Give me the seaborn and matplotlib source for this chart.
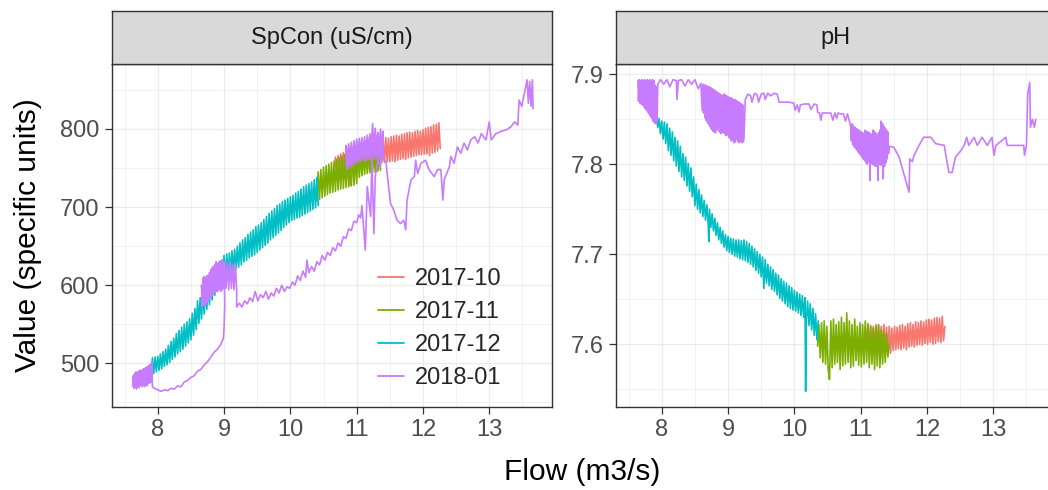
import numpy as np
import pandas as pd
import seaborn as sns
import matplotlib.pyplot as plt
from matplotlib.lines import Line2D

months = ['2017-10', '2017-11', '2017-12', '2018-01']
colors = ['#F8766D', '#7CAE00', '#00BFC4', '#C77CFF']
params = ['SpCon (uS/cm)', 'pH']

# SpCon (flow m3/s, value)
spcon_oct_flow = [10.66, 10.68, 10.70, 10.72, 10.74, 10.76, 10.78, 10.80, 10.82, 10.84, 10.86, 10.88, 10.90,
                  10.92, 10.94, 10.96, 10.98, 11.00, 11.02, 11.04, 11.06, 11.08, 11.10, 11.12, 11.14, 11.16,
                  11.18, 11.20, 11.22, 11.24, 11.26, 11.28, 11.30, 11.32, 11.34, 11.36, 11.38, 11.40, 11.42,
                  11.44, 11.46, 11.48, 11.50, 11.52, 11.54, 11.56, 11.58, 11.60, 11.62, 11.64, 11.66, 11.68,
                  11.70, 11.72, 11.74, 11.76, 11.78, 11.80, 11.82, 11.84, 11.86, 11.88, 11.90, 11.92, 11.94,
                  11.96, 11.98, 12.00, 12.02, 12.04, 12.06, 12.08, 12.10, 12.12, 12.14, 12.16, 12.18, 12.20,
                  12.22, 12.24, 12.26]
spcon_oct_val = [745, 764, 746, 766, 748, 768, 749, 770, 736, 771, 740, 772, 728, 774, 748, 775, 750, 777, 751,
                 778, 752, 779, 753, 780, 754, 781, 754, 782, 755, 783, 755, 784, 756, 785, 756, 786, 757, 788,
                 757, 789, 758, 788, 758, 790, 759, 791, 758, 792, 760, 791, 761, 793, 762, 794, 761, 795, 763,
                 796, 764, 795, 765, 797, 766, 798, 767, 797, 767, 799, 768, 801, 768, 802, 766, 803, 769, 805,
                 770, 806, 772, 808, 775]

spcon_nov_flow = [10.40, 10.42, 10.44, 10.46, 10.48, 10.50, 10.52, 10.54, 10.56, 10.58, 10.60, 10.62, 10.64,
                  10.66, 10.68, 10.70, 10.72, 10.74, 10.76, 10.78, 10.80, 10.82, 10.84, 10.86, 10.88, 10.90,
                  10.92, 10.94, 10.96, 10.98, 11.00, 11.02, 11.04, 11.06, 11.08, 11.10, 11.12, 11.14, 11.16,
                  11.18, 11.20, 11.22, 11.24, 11.26, 11.28, 11.30, 11.32, 11.34, 11.36]
spcon_nov_val = [708, 745, 710, 748, 712, 751, 714, 753, 716, 755, 718, 757, 719, 759, 720, 761, 722, 763, 723,
                 765, 724, 767, 725, 768, 726, 769, 727, 770, 728, 769, 730, 768, 738, 767, 740, 768, 742, 767,
                 743, 769, 744, 768, 745, 770, 744, 768, 746, 767, 747]

spcon_dec_flow = [7.90, 7.92, 7.94, 7.96, 7.98, 8.00, 8.02, 8.04, 8.06, 8.08, 8.10, 8.12, 8.14, 8.16, 8.18,
                  8.20, 8.22, 8.24, 8.26, 8.28, 8.30, 8.32, 8.34, 8.36, 8.38, 8.40, 8.42, 8.44, 8.46, 8.48,
                  8.50, 8.52, 8.54, 8.56, 8.58, 8.60, 8.62, 8.64, 8.66, 8.68, 8.70, 8.72, 8.74, 8.76, 8.78,
                  8.80, 8.82, 8.84, 8.86, 8.88, 8.90, 8.92, 8.94, 8.96, 8.98, 9.00, 9.02, 9.04, 9.06, 9.08,
                  9.10, 9.12, 9.14, 9.16, 9.18, 9.20, 9.22, 9.24, 9.26, 9.28, 9.30, 9.32, 9.34, 9.36, 9.38,
                  9.40, 9.42, 9.44, 9.46, 9.48, 9.50, 9.52, 9.54, 9.56, 9.58, 9.60, 9.62, 9.64, 9.66, 9.68,
                  9.70, 9.72, 9.74, 9.76, 9.78, 9.80, 9.82, 9.84, 9.86, 9.88, 9.90, 9.92, 9.94, 9.96, 9.98,
                  10.00, 10.02, 10.04, 10.06, 10.08, 10.10, 10.12, 10.14, 10.16, 10.18, 10.20, 10.22, 10.24,
                  10.26, 10.28, 10.30, 10.32, 10.34, 10.36, 10.38, 10.40, 10.42]
spcon_dec_val = [486, 507, 487, 508, 489, 509, 491, 512, 493, 515, 496, 518, 498, 523, 501, 528, 505, 532, 508,
                 538, 512, 542, 515, 546, 518, 550, 522, 553, 526, 557, 530, 564, 536, 570, 543, 580, 551, 584,
                 557, 591, 563, 597, 569, 602, 575, 608, 581, 613, 587, 619, 592, 625, 597, 632, 603, 638, 607,
                 640, 610, 641, 614, 644, 617, 646, 620, 650, 623, 654, 626, 658, 630, 661, 632, 665, 635, 668,
                 637, 671, 639, 675, 642, 677, 645, 680, 648, 684, 651, 688, 654, 692, 658, 695, 661, 698, 664,
                 702, 667, 704, 670, 707, 674, 709, 677, 711, 680, 713, 683, 715, 684, 718, 686, 720, 687, 723,
                 689, 726, 691, 728, 693, 730, 695, 732, 697, 735, 699, 738, 702]

spcon_jan_flow = [7.62, 7.63, 7.64, 7.65, 7.66, 7.67, 7.68, 7.69, 7.70, 7.71, 7.72, 7.73, 7.74, 7.75, 7.76,
                  7.77, 7.78, 7.79, 7.80, 7.81, 7.82, 7.83, 7.84, 7.85, 7.86, 7.87, 7.88, 7.89, 7.90, 7.91, 7.92,
                  7.95, 8.00, 8.05, 8.10, 8.15, 8.20, 8.25, 8.30, 8.35, 8.40, 8.45, 8.50, 8.55, 8.60, 8.65,
                  8.70, 8.75, 8.80, 8.85, 8.90, 8.95, 8.99, 9.00,
                  9.01, 9.00, 8.99, 8.98, 8.97, 8.96, 8.95, 8.94, 8.93, 8.92, 8.91, 8.90, 8.89, 8.88, 8.87,
                  8.86, 8.85, 8.84, 8.83, 8.82, 8.81, 8.80, 8.79, 8.78, 8.77, 8.76, 8.75, 8.74, 8.73, 8.72,
                  8.71, 8.70, 8.69, 8.68, 8.67, 8.66,
                  8.67, 8.69, 8.71, 8.73, 8.75, 8.77, 8.79, 8.81, 8.83, 8.85, 8.87, 8.89, 8.91, 8.93, 8.95,
                  8.97, 8.99, 9.01, 9.03, 9.05, 9.07, 9.09, 9.11, 9.13, 9.15, 9.17, 9.19, 9.19,
                  9.23, 9.27, 9.31, 9.35, 9.39, 9.43, 9.47, 9.51, 9.55, 9.59, 9.63, 9.67, 9.71, 9.75, 9.79,
                  9.83, 9.87, 9.91, 9.95, 9.99, 10.03, 10.07, 10.11, 10.15, 10.19, 10.23, 10.25, 10.28, 10.32,
                  10.36, 10.40, 10.44, 10.48, 10.52, 10.56, 10.60, 10.64, 10.68, 10.72, 10.76, 10.80, 10.84,
                  10.88, 10.92, 10.96, 11.00, 11.03, 11.06, 11.08,
                  11.13, 11.16, 11.21, 11.23, 11.26, 11.28, 11.32, 11.36,
                  11.40, 11.38, 11.36, 11.34, 11.32, 11.30, 11.28, 11.26, 11.24, 11.22, 11.20, 11.18, 11.16,
                  11.14, 11.12, 11.10, 11.08, 11.06, 11.04, 11.02, 11.00, 10.98, 10.96, 10.94, 10.92, 10.90,
                  10.88, 10.86, 10.84,
                  10.85, 10.87, 10.89, 10.91, 10.93, 10.95, 10.97, 10.99, 11.01, 11.03, 11.05, 11.07, 11.09,
                  11.11, 11.13, 11.15, 11.17, 11.19, 11.21, 11.23, 11.25, 11.27, 11.29, 11.31, 11.33, 11.35,
                  11.37, 11.39, 11.41,
                  11.44, 11.47, 11.51, 11.56, 11.61, 11.66, 11.71, 11.74, 11.76, 11.82, 11.87, 11.89, 11.92,
                  11.97, 12.04, 12.09, 12.17, 12.22, 12.27, 12.30, 12.32, 12.40, 12.42, 12.47, 12.52, 12.57,
                  12.62, 12.67, 12.72, 12.78, 12.83, 12.88, 12.95, 13.00, 13.03, 13.10, 13.18, 13.26, 13.33,
                  13.38, 13.43, 13.45, 13.49, 13.53, 13.57, 13.59, 13.61, 13.63, 13.65, 13.66]
spcon_jan_val = [471, 484, 468, 487, 470, 489, 467, 488, 471, 490, 469, 491, 472, 490, 470, 492, 473, 493, 470,
                 494, 472, 495, 471, 496, 474, 497, 475, 499, 476, 502, 470,
                 468, 466, 464, 466, 465, 468, 467, 471, 470, 476, 478, 482, 484, 490, 492, 498, 502, 508, 514,
                 518, 524, 532, 545,
                 575, 628, 596, 630, 594, 628, 592, 631, 595, 629, 593, 627, 592, 630, 594, 626, 590, 624, 588,
                 622, 586, 620, 584, 616, 582, 612, 578, 612, 576, 610, 574, 611, 575, 609, 573, 600,
                 590, 605, 588, 606, 590, 610, 592, 618, 596, 624, 598, 628, 600, 630, 598, 632, 600, 630, 596,
                 628, 594, 630, 596, 626, 594, 628, 594, 572,
                 577, 572, 580, 576, 584, 579, 592, 580, 588, 584, 592, 582, 590, 586, 596, 590, 600, 592, 598,
                 596, 604, 600, 612, 606, 618, 610, 632, 616, 624, 618, 630, 626, 638, 632, 642, 638, 648, 644,
                 654, 650, 662, 660, 672, 670, 682, 680, 690, 686, 702,
                 645, 726, 688, 760, 666, 739, 760, 752,
                 797, 778, 800, 776, 796, 777, 801, 775, 807, 776, 794, 774, 792, 772, 790, 771, 789, 770, 788,
                 768, 787, 766, 785, 765, 783, 762, 781, 760, 779,
                 748, 766, 750, 768, 752, 770, 755, 772, 757, 774, 758, 776, 760, 777, 759, 778, 761, 779, 760,
                 780, 761, 780, 762, 781, 760, 782, 761, 783, 760,
                 760, 735, 705, 696, 683, 679, 683, 671, 709, 735, 739, 760, 743, 756, 760, 748, 739, 748, 748,
                 709, 735, 752, 765, 756, 777, 769, 782, 773, 786, 790, 782, 794, 786, 809, 786, 794, 797, 799,
                 803, 809, 805, 837, 829, 846, 863, 833, 861, 829, 863, 826]

# pH
ph_oct_flow = [11.05, 11.07, 11.09, 11.11, 11.13, 11.15, 11.17, 11.19, 11.21, 11.23, 11.25, 11.27, 11.29,
               11.31, 11.33, 11.35, 11.37, 11.39, 11.41, 11.43, 11.45, 11.47, 11.49, 11.51, 11.53, 11.55,
               11.57, 11.59, 11.61, 11.63, 11.65, 11.67, 11.69, 11.71, 11.73, 11.75, 11.77, 11.79, 11.81,
               11.83, 11.85, 11.87, 11.89, 11.91, 11.93, 11.95, 11.97, 11.99, 12.01, 12.03, 12.05, 12.07,
               12.09, 12.11, 12.13, 12.15, 12.17, 12.19, 12.21, 12.23, 12.25, 12.27]
ph_oct_val = [7.600, 7.620, 7.596, 7.622, 7.595, 7.621, 7.597, 7.620, 7.596, 7.622, 7.594, 7.621, 7.595, 7.620,
              7.594, 7.622, 7.593, 7.619, 7.592, 7.620, 7.590, 7.618, 7.593, 7.620, 7.594, 7.619, 7.595, 7.621,
              7.594, 7.622, 7.596, 7.620, 7.594, 7.623, 7.597, 7.624, 7.598, 7.622, 7.597, 7.625, 7.599, 7.624,
              7.600, 7.626, 7.599, 7.625, 7.601, 7.627, 7.600, 7.628, 7.602, 7.627, 7.600, 7.629, 7.601, 7.630,
              7.603, 7.629, 7.602, 7.631, 7.604, 7.620]

ph_nov_flow = [10.35, 10.37, 10.39, 10.41, 10.43, 10.45, 10.47, 10.49, 10.51, 10.53, 10.55, 10.57, 10.59,
               10.61, 10.63, 10.65, 10.67, 10.69, 10.71, 10.73, 10.75, 10.77, 10.79, 10.81, 10.83, 10.85,
               10.87, 10.89, 10.91, 10.93, 10.95, 10.97, 10.99, 11.01, 11.03, 11.05, 11.07, 11.09, 11.11,
               11.13, 11.15, 11.17, 11.19, 11.21, 11.23, 11.25, 11.27, 11.29, 11.31, 11.33, 11.35, 11.37,
               11.39, 11.41, 11.43]
ph_nov_val = [7.598, 7.622, 7.585, 7.624, 7.580, 7.626, 7.578, 7.620, 7.572, 7.561, 7.626, 7.574, 7.628, 7.578,
              7.622, 7.580, 7.625, 7.572, 7.630, 7.576, 7.624, 7.578, 7.635, 7.580, 7.626, 7.574, 7.622, 7.576,
              7.628, 7.582, 7.620, 7.577, 7.624, 7.575, 7.622, 7.578, 7.626, 7.580, 7.623, 7.574, 7.620, 7.578,
              7.618, 7.572, 7.620, 7.576, 7.622, 7.574, 7.616, 7.578, 7.614, 7.580, 7.612, 7.586, 7.600]

ph_dec_flow = [7.92, 7.94, 7.96, 7.98, 8.00, 8.02, 8.04, 8.06, 8.08, 8.10, 8.12, 8.14, 8.16, 8.18, 8.20,
               8.22, 8.24, 8.26, 8.28, 8.30, 8.32, 8.34, 8.36, 8.38, 8.40, 8.42, 8.44, 8.46, 8.48, 8.50,
               8.52, 8.54, 8.56, 8.58, 8.60, 8.62, 8.64, 8.66, 8.68, 8.70, 8.71, 8.72, 8.74, 8.76, 8.78,
               8.80, 8.82, 8.84, 8.86, 8.88, 8.90, 8.92, 8.94, 8.96, 8.98, 9.00, 9.02, 9.04, 9.06, 9.08,
               9.10, 9.12, 9.14, 9.16, 9.18, 9.20, 9.22, 9.24, 9.26, 9.28, 9.30, 9.32, 9.34, 9.36, 9.38,
               9.40, 9.42, 9.44, 9.46, 9.48, 9.50, 9.52, 9.54, 9.56, 9.58, 9.60, 9.62, 9.64, 9.66, 9.68,
               9.70, 9.72, 9.74, 9.76, 9.78, 9.80, 9.82, 9.84, 9.86, 9.88, 9.90, 9.92, 9.94, 9.96, 9.98,
               10.00, 10.02, 10.04, 10.06, 10.08, 10.10, 10.12, 10.14, 10.16, 10.17, 10.18, 10.20, 10.22,
               10.24, 10.26, 10.28, 10.30, 10.32, 10.34, 10.36]
ph_dec_val = [7.852, 7.841, 7.851, 7.834, 7.848, 7.828, 7.847, 7.823, 7.845, 7.815, 7.840, 7.810, 7.836, 7.804,
              7.830, 7.798, 7.826, 7.792, 7.820, 7.786, 7.812, 7.782, 7.808, 7.776, 7.801, 7.770, 7.796, 7.764,
              7.786, 7.754, 7.778, 7.750, 7.772, 7.746, 7.766, 7.742, 7.760, 7.738, 7.755, 7.735, 7.714, 7.750,
              7.730, 7.745, 7.726, 7.740, 7.721, 7.735, 7.716, 7.730, 7.712, 7.726, 7.708, 7.722, 7.704, 7.720,
              7.702, 7.718, 7.700, 7.717, 7.698, 7.716, 7.697, 7.716, 7.695, 7.715,
              7.694, 7.716, 7.693, 7.714, 7.691, 7.712, 7.689, 7.709, 7.686, 7.706, 7.682, 7.703, 7.679, 7.700,
              7.675, 7.697, 7.662, 7.694, 7.668, 7.689, 7.665, 7.686, 7.661, 7.683, 7.659, 7.679, 7.655, 7.677,
              7.651, 7.673, 7.648, 7.670, 7.645, 7.668, 7.642, 7.665, 7.640, 7.663, 7.638, 7.660, 7.637, 7.658,
              7.635, 7.656, 7.632, 7.654, 7.630, 7.652, 7.548, 7.627, 7.648, 7.621, 7.645, 7.616, 7.640, 7.610,
              7.634, 7.605, 7.626]

ph_jan_flow = [7.64, 7.65, 7.66, 7.67, 7.68, 7.69, 7.70, 7.71, 7.72, 7.73, 7.74, 7.75, 7.76, 7.77, 7.78, 7.79,
               7.80, 7.81, 7.82, 7.83, 7.84, 7.85, 7.86, 7.87, 7.88, 7.89, 7.90, 7.91, 7.92, 7.93, 7.94,
               7.98, 8.03, 8.08, 8.12, 8.17, 8.22, 8.23, 8.25, 8.30, 8.35, 8.40, 8.45, 8.50, 8.55, 8.59,
               8.61, 8.62, 8.63, 8.64, 8.65, 8.66, 8.67, 8.68, 8.69, 8.70, 8.71, 8.72, 8.73, 8.74, 8.75, 8.76,
               8.77, 8.78, 8.79, 8.80, 8.81, 8.82, 8.83, 8.84, 8.85, 8.86, 8.87, 8.88, 8.89, 8.90, 8.91, 8.92,
               8.93, 8.94, 8.95, 8.96, 8.97, 8.98, 8.99, 9.00, 9.01, 9.02, 9.03, 9.04, 9.05, 9.06, 9.07, 9.08,
               9.09, 9.10, 9.11, 9.12, 9.13, 9.14, 9.15, 9.16, 9.17, 9.18, 9.19, 9.20, 9.21, 9.22, 9.23, 9.24,
               9.26, 9.30, 9.34, 9.36, 9.40, 9.44, 9.46, 9.50, 9.54, 9.56, 9.60, 9.64, 9.70, 9.74, 9.77, 9.85,
               9.92, 9.99, 10.01, 10.04, 10.07, 10.09, 10.15, 10.22, 10.25, 10.30, 10.34, 10.35, 10.38, 10.40,
               10.42, 10.50, 10.55, 10.58, 10.61, 10.64, 10.66, 10.70, 10.74, 10.77, 10.80, 10.83,
               10.85, 10.86, 10.87, 10.88, 10.89, 10.90, 10.91, 10.92, 10.93, 10.94, 10.95, 10.96, 10.97,
               10.98, 10.99, 11.00, 11.01, 11.02, 11.03, 11.04, 11.05, 11.06, 11.07, 11.08, 11.09, 11.10,
               11.11, 11.12, 11.13, 11.14, 11.15, 11.16, 11.17, 11.18, 11.19, 11.20, 11.21, 11.22, 11.23,
               11.24, 11.25, 11.26, 11.27, 11.28, 11.29, 11.30, 11.31, 11.32, 11.33, 11.34, 11.35, 11.36,
               11.37, 11.38, 11.39, 11.40, 11.41, 11.42, 11.43,
               11.50, 11.58, 11.65, 11.73, 11.74, 11.78, 11.80, 11.88, 11.95, 12.06, 12.13, 12.26, 12.30,
               12.33, 12.38, 12.43, 12.51, 12.56, 12.60, 12.63, 12.71, 12.76, 12.83, 12.91, 12.98, 13.01,
               13.04, 13.19, 13.21, 13.46, 13.47, 13.50, 13.52, 13.55, 13.56, 13.59, 13.62, 13.64]
ph_jan_val = [7.893, 7.870, 7.894, 7.868, 7.893, 7.867, 7.894, 7.866, 7.893, 7.864, 7.894, 7.862, 7.892, 7.860,
              7.894, 7.858, 7.893, 7.856, 7.894, 7.853, 7.893, 7.851, 7.894, 7.848, 7.893, 7.846, 7.888, 7.845,
              7.886, 7.848, 7.889,
              7.894, 7.889, 7.894, 7.886, 7.894, 7.893, 7.872, 7.893, 7.894, 7.887, 7.894, 7.889, 7.894,
              7.884, 7.890,
              7.860, 7.889, 7.857, 7.888, 7.852, 7.888, 7.849, 7.887, 7.846, 7.886, 7.844, 7.886, 7.842,
              7.885, 7.839, 7.884, 7.837, 7.883, 7.836, 7.882, 7.835, 7.881, 7.838, 7.880, 7.842, 7.879,
              7.836, 7.878, 7.834, 7.877, 7.836, 7.876, 7.835, 7.878, 7.834, 7.877, 7.832, 7.876, 7.833,
              7.875, 7.830, 7.874, 7.829, 7.874, 7.826, 7.873, 7.827, 7.872, 7.824, 7.872, 7.825, 7.871,
              7.828, 7.870, 7.825, 7.869, 7.824, 7.868, 7.826, 7.867, 7.824, 7.866, 7.825, 7.830,
              7.872, 7.878, 7.876, 7.869, 7.879, 7.877, 7.869, 7.878, 7.879, 7.872, 7.879, 7.876, 7.879,
              7.878, 7.869, 7.869, 7.869, 7.868, 7.860, 7.866, 7.858, 7.866, 7.867, 7.867, 7.861, 7.867,
              7.866, 7.858, 7.857, 7.849, 7.857, 7.857, 7.857, 7.849, 7.857, 7.851, 7.857, 7.856, 7.856,
              7.848, 7.856, 7.848,
              7.842, 7.826, 7.845, 7.822, 7.843, 7.820, 7.841, 7.818, 7.840, 7.816, 7.839, 7.814, 7.838,
              7.812, 7.837, 7.810, 7.836, 7.808, 7.835, 7.806, 7.834, 7.804, 7.838, 7.802, 7.836, 7.800,
              7.836, 7.803, 7.835, 7.782, 7.834, 7.801, 7.833, 7.800, 7.838, 7.799, 7.836, 7.798, 7.834,
              7.798, 7.832, 7.782, 7.835, 7.800, 7.838, 7.799, 7.848, 7.800, 7.845, 7.784, 7.842, 7.798,
              7.840, 7.802, 7.838, 7.806, 7.836, 7.812, 7.820,
              7.819, 7.808, 7.790, 7.769, 7.806, 7.803, 7.809, 7.821, 7.830, 7.830, 7.823, 7.821, 7.804,
              7.791, 7.791, 7.808, 7.815, 7.821, 7.830, 7.821, 7.830, 7.821, 7.830, 7.821, 7.830, 7.810,
              7.821, 7.830, 7.821, 7.821, 7.810, 7.821, 7.878, 7.891, 7.841, 7.850, 7.841, 7.850]

series = {
    ('SpCon (uS/cm)', '2017-10'): (spcon_oct_flow, spcon_oct_val),
    ('SpCon (uS/cm)', '2017-11'): (spcon_nov_flow, spcon_nov_val),
    ('SpCon (uS/cm)', '2017-12'): (spcon_dec_flow, spcon_dec_val),
    ('SpCon (uS/cm)', '2018-01'): (spcon_jan_flow, spcon_jan_val),
    ('pH', '2017-10'): (ph_oct_flow, ph_oct_val),
    ('pH', '2017-11'): (ph_nov_flow, ph_nov_val),
    ('pH', '2017-12'): (ph_dec_flow, ph_dec_val),
    ('pH', '2018-01'): (ph_jan_flow, ph_jan_val),
}
frames = []
for (p, m), (f, v) in series.items():
    frames.append(pd.DataFrame({'param': p, 'month': m, 'flow': f, 'value': v}))
df = pd.concat(frames, ignore_index=True)

sns.set_theme(style='white')
plt.rcParams['font.family'] = ['Liberation Sans', 'DejaVu Sans']

W, H = 1048, 490
fig = plt.figure(figsize=(W / 100, H / 100), dpi=100)

def box(x0, y0, x1, y1):
    # pixel box (top-left origin) -> figure fraction
    return [x0 / W, 1 - y1 / H, (x1 - x0) / W, (y1 - y0) / H]

panel_x = [(112, 552), (616, 1056)]
ylims = [(444.4, 882.8), (7.5307, 7.9111)]
yticks = [[500, 600, 700, 800], [7.6, 7.7, 7.8, 7.9]]
yminor = [[450, 550, 650, 750, 850], [7.55, 7.65, 7.75, 7.85]]
ylabels = [['500', '600', '700', '800'], ['7.6', '7.7', '7.8', '7.9']]
xticks = [8, 9, 10, 11, 12, 13]
xminor = [7.5, 8.5, 9.5, 10.5, 11.5, 12.5, 13.5]

dark = '#333333'
for i, p in enumerate(params):
    x0, x1 = panel_x[i]
    ax = fig.add_axes(box(x0, 64.3, x1, 406.7))
    ax.set_facecolor('white')
    for v in xminor:
        ax.axvline(v, color='#EBEBEB', lw=0.45, zorder=0)
    for v in yminor[i]:
        ax.axhline(v, color='#EBEBEB', lw=0.45, zorder=0)
    for v in xticks:
        ax.axvline(v, color='#EBEBEB', lw=0.9, zorder=0)
    for v in yticks[i]:
        ax.axhline(v, color='#EBEBEB', lw=0.9, zorder=0)

    sns.lineplot(data=df[df.param == p], x='flow', y='value', hue='month', hue_order=months,
                 palette=colors, sort=False, estimator=None, lw=1.2, legend=False, ax=ax, zorder=2)

    ax.set_xlim(7.31, 13.946)
    ax.set_ylim(*ylims[i])
    ax.set_xticks(xticks)
    ax.set_xticklabels([str(t) for t in xticks])
    ax.set_yticks(yticks[i])
    ax.set_yticklabels(ylabels[i])
    ax.set_xlabel('')
    ax.set_ylabel('')
    ax.tick_params(length=5, width=0.9, color=dark, labelsize=17, labelcolor='#4D4D4D', pad=4,
                   bottom=True, left=True)
    for s in ax.spines.values():
        s.set_color(dark)
        s.set_linewidth(1.0)
        s.set_visible(True)

    sax = fig.add_axes(box(x0, 11, x1, 64.3))
    sax.set_facecolor('#D9D9D9')
    sax.set_xticks([])
    sax.set_yticks([])
    for s in sax.spines.values():
        s.set_color(dark)
        s.set_linewidth(1.0)
        s.set_visible(True)
    sax.text(0.5, 0.5, p, transform=sax.transAxes, ha='center', va='center',
             fontsize=17, color='#1A1A1A')

    if i == 0:
        handles = [Line2D([], [], color=c, lw=1.3) for c in colors]
        ax.legend(handles, months, loc='upper left', bbox_to_anchor=(378 / W, 1 - 268 / H),
                  bbox_transform=fig.transFigure, frameon=False, fontsize=17, handlelength=1.1,
                  handletextpad=0.45, labelspacing=0.47, borderpad=0, borderaxespad=0)

fig.text(582 / W, 1 - 472 / H, 'Flow (m3/s)', ha='center', va='center', fontsize=21.5, color='black')
fig.text(28 / W, 1 - 235.5 / H, 'Value (specific units)', ha='center', va='center', rotation=90,
         fontsize=21.5, color='black')

fig.savefig('out.png', dpi=100)
